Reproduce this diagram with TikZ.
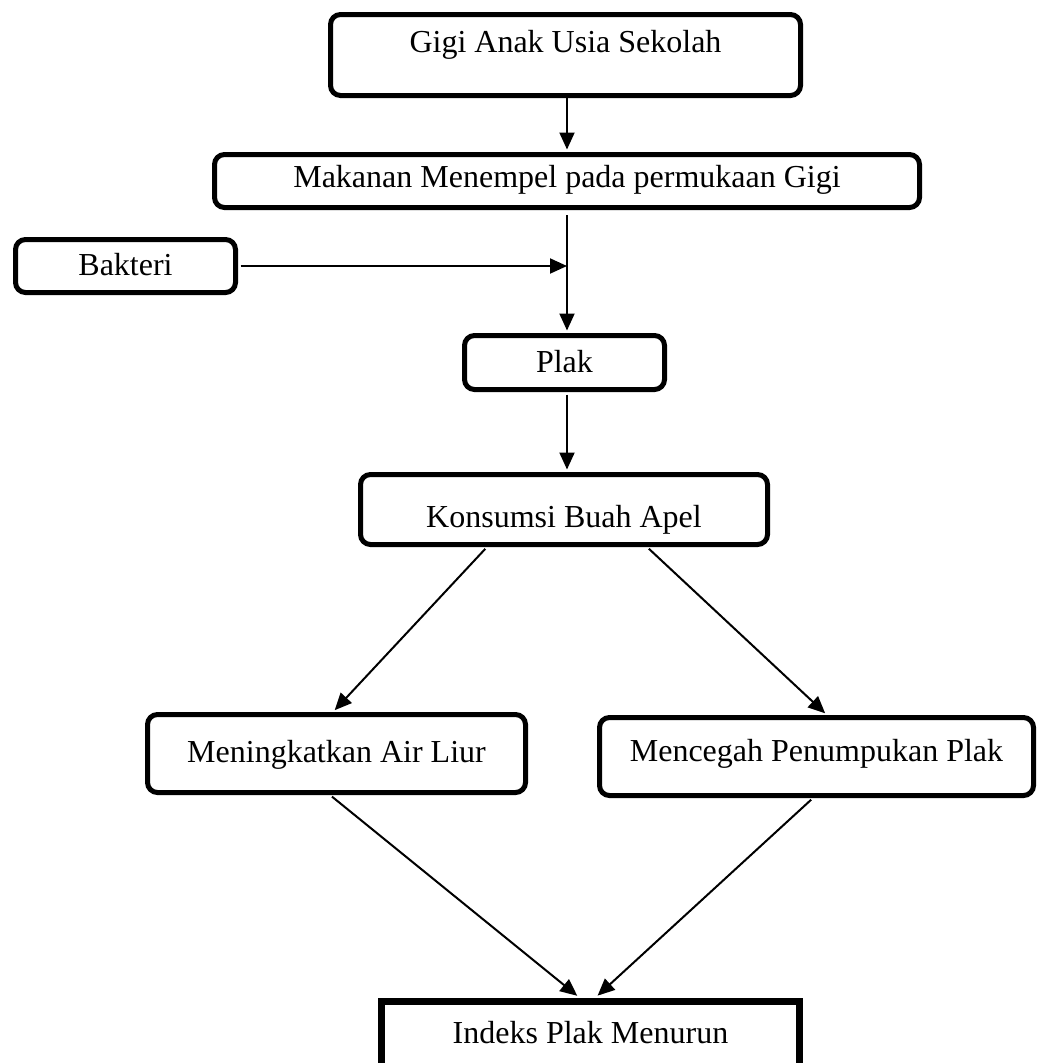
\documentclass[tikz,border=0pt]{standalone}
\usepackage{fontspec}
\setmainfont{Liberation Serif}
\usetikzlibrary{arrows.meta}
\begin{document}
\begin{tikzpicture}[x=1pt, y=-1pt,
    box/.style = {draw, line width=5pt, rounded corners=10pt, inner sep=0pt, anchor=base,
                  font=\fontsize{32}{38}\selectfont},
    endbox/.style = {box, line width=7pt, sharp corners},
    arrow/.style = {line width=2pt, -{Triangle[length=17pt,width=15pt]}}]
    \useasboundingbox (0,0) rectangle (1038,1063);
    \clip (0,0) rectangle (1038,1063);
    \node[box, minimum width=470pt, text height=37.5pt, text depth=43.5pt] (gigi) at (565.5,52) {Gigi Anak Usia Sekolah};
    \node[box, minimum width=705pt, text height=32.5pt, text depth=20.5pt] (makanan) at (567,187) {Makanan Menempel pada permukaan Gigi};
    \node[box, minimum width=220pt, text height=35.5pt, text depth=17.5pt] (bakteri) at (125.5,275) {Bakteri};
    \node[box, minimum width=200pt, text height=36.5pt, text depth=17.5pt] (plak) at (564.5,372) {Plak};
    \node[box, minimum width=407pt, text height=52.5pt, text depth=17.5pt] (konsumsi) at (564,527) {Konsumsi Buah Apel};
    \node[box, minimum width=378pt, text height=47.5pt, text depth=30.5pt] (airliur) at (336.5,762) {Meningkatkan Air Liur};
    \node[box, minimum width=434pt, text height=43.5pt, text depth=34.5pt] (cegah) at (816.5,761) {Mencegah Penumpukan Plak};
    \node[endbox, minimum width=418pt, text height=41.5pt, text depth=47pt] (indeks) at (590.5,1043) {Indeks Plak Menurun};
    \draw[arrow, shorten >=2.5pt] (makanan.north |- gigi.south) -- (makanan.north);
    \draw[arrow, shorten <=5pt, shorten >=2.5pt] (makanan.south) -- (makanan.south |- plak.north);
    \coordinate (masuk) at (bakteri.east -| makanan.south);
    \draw[arrow, shorten <=2.5pt] (bakteri.east) -- (masuk);
    \draw[arrow, shorten <=2.5pt, shorten >=2.5pt] (plak.south -| makanan.south) -- (konsumsi.north -| makanan.south);
    \draw[arrow, shorten <=2.5pt, shorten >=2.5pt] ([xshift=-77pt]konsumsi.south) -- ([xshift=-3.5pt]airliur.north);
    \draw[arrow, shorten <=2.5pt, shorten >=2.5pt] ([xshift=83pt]konsumsi.south) -- ([xshift=10.5pt]cegah.north);
    \draw[arrow, shorten <=2.5pt, shorten >=3.5pt] ([xshift=-6.5pt]airliur.south) -- ([xshift=-10.5pt]indeks.north);
    \draw[arrow, shorten <=2.5pt, shorten >=3.5pt] ([xshift=-3.5pt]cegah.south) -- ([xshift=4.5pt]indeks.north);
\end{tikzpicture}
\end{document}
